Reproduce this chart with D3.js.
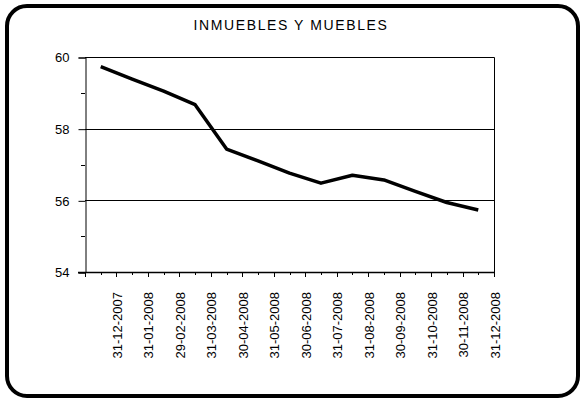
<!DOCTYPE html>
<html>
<head>
<meta charset="utf-8">
<script src="https://cdn.jsdelivr.net/npm/d3@7"></script>
<style>
  html, body { margin: 0; padding: 0; background: #fff; }
  svg { display: block; }
  text { font-family: "Liberation Sans", Arial, sans-serif; fill: #000; }
</style>
</head>
<body>
<script>
// Month-end observation dates
const dates = ["31-12-2007", "31-01-2008", "29-02-2008", "31-03-2008", "30-04-2008",
  "31-05-2008", "30-06-2008", "31-07-2008", "31-08-2008", "30-09-2008",
  "31-10-2008", "30-11-2008", "31-12-2008"];
// Series values
const values = [59.73, 59.38, 59.05, 58.67, 57.43, 57.10, 56.76, 56.48, 56.70, 56.57, 56.25, 55.94, 55.73];
// Y axis
const yMajorTicks = [54, 56, 58, 60];
const yMinorTicks = [55, 57, 59];
const title = "INMUEBLES Y MUEBLES";

const W = 582, H = 399;
const plot = { left: 85, right: 494, top: 57, bottom: 272 };

const svg = d3.select("body").append("svg").attr("width", W).attr("height", H);

// Outer rounded frame
svg.append("rect")
  .attr("x", 7).attr("y", 6).attr("width", 571).attr("height", 390)
  .attr("rx", 20).attr("ry", 20)
  .attr("fill", "#fff").attr("stroke", "#000").attr("stroke-width", 4);

// Title
svg.append("text")
  .attr("x", 291).attr("y", 30)
  .attr("text-anchor", "middle")
  .attr("font-size", 14)
  .attr("letter-spacing", "1.6px")
  .text(title);

const x = d3.scaleBand().domain(dates).range([plot.left, plot.right]).padding(0);
const y = d3.scaleLinear().domain([54, 60]).range([plot.bottom, plot.top]);

const g = svg.append("g");

// Horizontal gridlines
g.selectAll("line.grid").data(yMajorTicks.filter(v => v > 54 && v < 60)).join("line")
  .attr("class", "grid")
  .attr("x1", plot.left).attr("x2", plot.right)
  .attr("y1", d => Math.round(y(d)) + 0.5).attr("y2", d => Math.round(y(d)) + 0.5)
  .attr("stroke", "#000").attr("stroke-width", 1);

// Plot frame (top and right)
g.append("path")
  .attr("d", `M${plot.left},${plot.top + 0.5}H${plot.right + 0.5}V${plot.bottom}`)
  .attr("fill", "none").attr("stroke", "#000").attr("stroke-width", 1);

// Y axis with major ticks
const yAxis = d3.axisLeft(y).tickValues(yMajorTicks).tickSize(7).tickPadding(9)
  .tickFormat(d3.format("d"));
const yg = svg.append("g").attr("transform", `translate(${plot.left + 0.5},0.5)`).call(yAxis);
yg.select(".domain").attr("stroke", "#000");
yg.selectAll(".tick line").attr("stroke", "#000");
yg.selectAll(".tick text").attr("font-size", 13).attr("font-family", "Liberation Sans, Arial, sans-serif").attr("fill", "#000");

// Y minor ticks
svg.selectAll("line.yminor").data(yMinorTicks).join("line")
  .attr("class", "yminor")
  .attr("x1", plot.left - 4).attr("x2", plot.left)
  .attr("y1", d => Math.round(y(d)) + 0.5).attr("y2", d => Math.round(y(d)) + 0.5)
  .attr("stroke", "#000");

// X axis line
svg.append("line")
  .attr("x1", plot.left - 7).attr("x2", plot.right + 1)
  .attr("y1", plot.bottom + 0.5).attr("y2", plot.bottom + 0.5)
  .attr("stroke", "#000").attr("stroke-width", 1.5);

// X ticks: category boundaries (major) and centres (minor)
const boundaries = [plot.left].concat(dates.map(d => x(d) + x.bandwidth()));
svg.selectAll("line.xmajor").data(boundaries).join("line")
  .attr("class", "xmajor")
  .attr("x1", d => Math.round(d) + 0.5).attr("x2", d => Math.round(d) + 0.5)
  .attr("y1", plot.bottom).attr("y2", plot.bottom + 5)
  .attr("stroke", "#000");
svg.selectAll("line.xminor").data(dates).join("line")
  .attr("class", "xminor")
  .attr("x1", d => Math.round(x(d) + x.bandwidth() / 2) + 0.5)
  .attr("x2", d => Math.round(x(d) + x.bandwidth() / 2) + 0.5)
  .attr("y1", plot.bottom).attr("y2", plot.bottom + 3)
  .attr("stroke", "#000");

// Rotated date labels
svg.selectAll("text.xlab").data(dates).join("text")
  .attr("class", "xlab")
  .attr("font-size", 13)
  .attr("text-anchor", "end")
  .attr("dy", "0.35em")
  .attr("transform", d => `translate(${x(d) + x.bandwidth() + 1},292) rotate(-90)`)
  .text(d => d);

// Series line
const line = d3.line()
  .x((d, i) => x(dates[i]) + x.bandwidth() / 2)
  .y(d => y(d));
svg.append("path")
  .datum(values)
  .attr("d", line)
  .attr("fill", "none")
  .attr("stroke", "#000")
  .attr("stroke-width", 3.5)
  .attr("stroke-linejoin", "round");
</script>
</body>
</html>
